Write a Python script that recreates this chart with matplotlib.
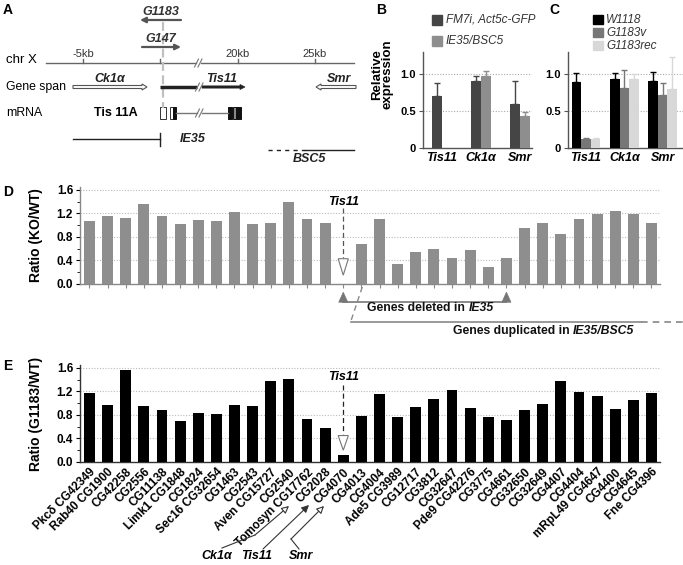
import matplotlib
matplotlib.use('Agg')
import matplotlib.pyplot as plt
import numpy as np
from matplotlib.patches import Rectangle, Polygon, FancyArrow
from matplotlib.ticker import MultipleLocator

plt.rcParams['font.family'] = ['Liberation Sans', 'DejaVu Sans']
plt.rcParams['axes.linewidth'] = 1.0

W, H = 683, 565
fig = plt.figure(figsize=(W / 100, H / 100), dpi=100)


def px_axes(l, t, r, b):
    return fig.add_axes([l / W, 1 - b / H, (r - l) / W, (b - t) / H])


# ---------------- data ----------------
genes_bc = ['Tis11', 'Ck1α', 'Smr']
b_labels = ['FM7i, Act5c-GFP', 'IE35/BSC5']
b_fm7 = [0.70, 0.91, 0.59]
b_fm7_err = [0.18, 0.06, 0.32]
b_ie35 = [0.0, 0.98, 0.44]
b_ie35_err = [0.0, 0.06, 0.05]

c_labels = ['W1118', 'G1183v', 'G1183rec']
c_w1118 = [0.89, 0.94, 0.91]
c_w1118_err = [0.13, 0.07, 0.12]
c_g1183v = [0.12, 0.81, 0.72]
c_g1183v_err = [0.02, 0.25, 0.16]
c_g1183rec = [0.12, 0.94, 0.80]
c_g1183rec_err = [0.02, 0.06, 0.43]

d_ratio = [1.07, 1.16, 1.13, 1.36, 1.15, 1.02, 1.09, 1.08, 1.23, 1.02, 1.03, 1.40, 1.11, 1.03,
           0.0, 0.68, 1.10, 0.335, 0.55, 0.59, 0.45, 0.58, 0.295, 0.44, 0.95, 1.04, 0.85,
           1.11, 1.19, 1.25, 1.19, 1.04]

e_genes = ['Pkcδ CG42349', 'Rab40 CG1900', 'CG42258', 'CG2556', 'CG11138', 'Limk1 CG1848',
           'CG1824', 'Sec16 CG32654', 'CG1463', 'CG2543', 'Aven CG15727', 'CG2540',
           'Tomosyn CG17762', 'CG2028', 'CG4070', 'CG4013', 'CG4004', 'Ade5 CG3989',
           'CG12717', 'CG3812', 'CG32647', 'Pde9 CG42276', 'CG3775', 'CG4661', 'CG32650',
           'CG32649', 'CG4407', 'CG4404', 'mRpL49 CG4647', 'CG4400', 'CG4645', 'Fne CG4396']
e_ratio = [1.17, 0.97, 1.57, 0.96, 0.89, 0.69, 0.83, 0.81, 0.97, 0.96, 1.38, 1.42, 0.73,
           0.57, 0.12, 0.79, 1.15, 0.76, 0.94, 1.07, 1.23, 0.92, 0.76, 0.72, 0.89, 0.99,
           1.38, 1.19, 1.12, 0.90, 1.06, 1.17]

tis11_index = 14
deleted_span = (14, 23)

# panel A schematic (schematic pixel units)
a_ticks_x = [83, 160, 238, 315]
a_tick_labels = ['-5kb', '', '20kb', '25kb']

# ---------------- overlay axes (pixel coords) ----------------
ov = fig.add_axes([0, 0, 1, 1], zorder=10)
ov.set_xlim(0, W)
ov.set_ylim(H, 0)
ov.axis('off')

BI = dict(fontweight='bold', fontstyle='italic')


def rich_text(ax, xc, yc, pieces, fontsize=8.5, color='#111'):
    r = fig.canvas.get_renderer()
    objs = [ax.text(xc, yc, s, fontsize=fontsize, fontweight='bold', fontstyle=st,
                    ha='left', va='center', clip_on=False, color=color)
            for s, st in pieces]
    widths = [o.get_window_extent(r).width for o in objs]
    X, Y = ax.transData.transform((xc, yc))
    inv = ax.transData.inverted()
    cur = X - sum(widths) / 2
    for o, w in zip(objs, widths):
        o.set_position(inv.transform((cur, Y)))
        cur += w


def brk(x, y, color='#777'):
    for dx in (-2.0, 1.5):
        ov.plot([x + dx - 2, x + dx + 2], [y + 4, y - 4], color=color, lw=0.8)


# ---------------- Panel A ----------------
ov.text(3, 10, 'A', fontsize=10, fontweight='bold', va='center')
ov.text(6, 60, 'chr X', fontsize=9.5, va='center')
ov.text(6, 87, 'Gene span', fontsize=8.8, va='center')
ov.text(6, 113, 'mRNA', fontsize=8.8, va='center')

# chromosome line with break
ov.plot([46, 196], [63, 63], color='#666', lw=1)
ov.plot([201, 354], [63, 63], color='#666', lw=1)
brk(198.5, 63)
for x, lab in zip(a_ticks_x, a_tick_labels):
    ov.plot([x, x], [59, 63], color='#666', lw=1)
    if lab:
        ov.text(x, 54, lab, fontsize=8, ha='center', va='center', color='#333')

# P-element insertions
ov.text(161, 12, 'G1183', fontsize=9, ha='center', va='center', color='#333', **BI)
ov.annotate('', xy=(140, 20), xytext=(181, 20),
            arrowprops=dict(arrowstyle='-|>', color='#555', lw=1.6, mutation_scale=8,
                            shrinkA=0, shrinkB=0))
ov.text(161, 39, 'G147', fontsize=9, ha='center', va='center', color='#333', **BI)
ov.annotate('', xy=(181, 47), xytext=(142, 47),
            arrowprops=dict(arrowstyle='-|>', color='#555', lw=1.6, mutation_scale=8,
                            shrinkA=0, shrinkB=0))
ov.plot([163, 163], [22, 108], color='#c0c0c0', lw=1.6, ls=(0, (4, 2)))

# gene spans
ov.add_patch(FancyArrow(73, 87, 74, 0, width=3, head_width=6, head_length=5,
                        length_includes_head=True, fc='white', ec='#555', lw=0.8))
ov.text(110, 79, 'Ck1α', fontsize=9, ha='center', va='center', color='#222', **BI)
ov.plot([160, 197], [87, 87], color='#222', lw=2.5, solid_capstyle='butt')
ov.add_patch(FancyArrow(202, 87, 43, 0, width=2.2, head_width=5, head_length=5,
                        length_includes_head=True, fc='#222', ec='#222', lw=0.5))
brk(199.5, 87)
ov.text(222, 79, 'Tis11', fontsize=9, ha='center', va='center', color='#222', **BI)
ov.add_patch(FancyArrow(356, 87, -40, 0, width=3, head_width=6, head_length=5,
                        length_includes_head=True, fc='white', ec='#555', lw=0.8))
ov.text(339, 79, 'Smr', fontsize=9, ha='center', va='center', color='#222', **BI)

# mRNA
ov.text(116, 113, 'Tis 11A', fontsize=9, fontweight='bold', ha='center', va='center')
ov.plot([176, 197], [113, 113], color='#777', lw=1)
ov.plot([202, 228], [113, 113], color='#777', lw=1)
brk(199.5, 113)
ov.add_patch(Rectangle((160, 107), 6, 12, fc='white', ec='#333', lw=0.7))
ov.add_patch(Rectangle((169.5, 107), 3, 12, fc='white', ec='#333', lw=0.7))
ov.add_patch(Rectangle((172.5, 107), 3.5, 12, fc='#111', ec='#111', lw=0.7))
ov.add_patch(Rectangle((228, 107), 4, 12, fc='#111', ec='#111', lw=0.7))
ov.add_patch(Rectangle((232.5, 107), 3.5, 12, fc='#888', ec='#111', lw=0.7))
ov.add_patch(Rectangle((236, 107), 4.5, 12, fc='#111', ec='#111', lw=0.7))

# deficiencies
ov.plot([73, 160], [139, 139], color='#222', lw=1)
ov.plot([160, 160], [133, 146], color='#222', lw=1)
ov.text(193, 139, 'IE35', fontsize=9, ha='center', va='center', color='#222', **BI)
ov.plot([268, 305], [150, 150], color='#222', lw=1, ls=(0, (3, 3)))
ov.plot([305, 354], [150, 150], color='#222', lw=1)
ov.text(309, 159, 'BSC5', fontsize=9, ha='center', va='center', color='#222', **BI)

# ---------------- Panel B ----------------
ov.text(376, 10, 'B', fontsize=10, fontweight='bold', va='center')
axB = px_axes(423, 52, 532, 148)
xb = np.arange(3)
bw = 0.256
dark, light = '#454545', '#8e8e8e'
axB.bar(xb - bw / 2, b_fm7, bw, color=dark, zorder=3)
axB.errorbar(xb - bw / 2, b_fm7, yerr=[np.zeros(3), b_fm7_err], fmt='none', ecolor=dark,
             elinewidth=1, capsize=2.5, capthick=1, zorder=3)
ie_mask = np.array(b_ie35) > 0
axB.bar((xb + bw / 2)[ie_mask], np.array(b_ie35)[ie_mask], bw, color=light, zorder=3)
axB.errorbar((xb + bw / 2)[ie_mask], np.array(b_ie35)[ie_mask],
             yerr=[np.zeros(ie_mask.sum()), np.array(b_ie35_err)[ie_mask]], fmt='none',
             ecolor=light, elinewidth=1, capsize=2.5, capthick=1, zorder=3)
axB.set_xlim(-0.487, 2.31)
axB.set_ylim(0, 1.3)
axB.set_ylabel('Relative\nexpression', fontsize=9.5, fontweight='bold', linespacing=0.85)
axB.yaxis.set_label_coords(-0.27, 0.77)

ov.add_patch(Rectangle((432, 15), 10, 10, color=dark))
ov.text(446, 20, b_labels[0], fontsize=8.5, fontstyle='italic', va='center', color='#333')
ov.add_patch(Rectangle((432, 36), 10, 10, color=light))
ov.text(446, 41, b_labels[1], fontsize=8.5, fontstyle='italic', va='center', color='#333')

# ---------------- Panel C ----------------
ov.text(549, 10, 'C', fontsize=10, fontweight='bold', va='center')
axC = px_axes(568, 52, 683, 148)
cw = 0.25
c_cols = ['#000000', '#777777', '#d8d8d8']
for k, (vals, errs) in enumerate([(c_w1118, c_w1118_err), (c_g1183v, c_g1183v_err),
                                  (c_g1183rec, c_g1183rec_err)]):
    xs = xb + (k - 1) * cw
    axC.bar(xs, vals, cw, color=c_cols[k], zorder=3)
    axC.errorbar(xs, vals, yerr=[np.zeros(3), errs], fmt='none', ecolor=c_cols[k],
                 elinewidth=1, capsize=2.5, capthick=1, zorder=3)
    ov.add_patch(Rectangle((593, 15 + k * 13), 10, 9, color=c_cols[k]))
    ov.text(606, 20 + k * 13, c_labels[k], fontsize=8.5, fontstyle='italic', va='center',
            color='#333')
axC.set_xlim(-0.47, 2.53)
axC.set_ylim(0, 1.3)

for ax in (axB, axC):
    ax.set_xticks(xb)
    ax.set_xticklabels(genes_bc, fontsize=9, **BI)
    ax.tick_params(axis='x', length=0, pad=3)
    ax.set_yticks([0, 0.5, 1.0])
    ax.set_yticklabels(['0', '0.5', '1.0'], fontsize=8, fontweight='bold')
    ax.tick_params(axis='y', length=3, width=0.8, pad=2, color='#555')
    for s in ('top', 'right'):
        ax.spines[s].set_visible(False)
    for s in ('left', 'bottom'):
        ax.spines[s].set_color('#555')
    for yv in (0.5, 1.0):
        ax.axhline(yv, color='#aaaaaa', lw=0.8, ls=(0, (1, 1.5)), zorder=1)

# ---------------- Panel D ----------------
ov.text(3, 192, 'D', fontsize=10, fontweight='bold', va='center')
axD = px_axes(80, 187, 660, 284)
xd = np.arange(len(d_ratio))
axD.bar(xd, d_ratio, 0.6, color='#8e8e8e', zorder=3)
axD.set_xlim(-0.52, 31.47)
axD.set_ylim(0, 1.65)
axD.set_xticks(xd)
axD.set_xticklabels([])
axD.tick_params(axis='x', length=3, width=0.8, color='#888')
axD.set_ylabel('Ratio (KO/WT)', fontsize=10, fontweight='bold')
axD.yaxis.set_label_coords(-37 / 580, 0.5)
for s in ('left', 'bottom'):
    axD.spines[s].set_color('#888')

# Tis11 marker in D
axD.text(tis11_index, 1.40, 'Tis11', fontsize=9, ha='center', va='center', **BI)
axD.plot([tis11_index, tis11_index], [1.29, 0.44], color='#555', lw=0.9, ls=(0, (4, 2.5)))
axD.add_patch(Polygon([[tis11_index - 0.28, 0.43], [tis11_index + 0.28, 0.43],
                       [tis11_index, 0.15]], closed=True, fc='white', ec='#777', lw=0.8,
                      zorder=4))

# bracket: deleted in IE35
d0, d1 = deleted_span
axD.plot([d0, d1], [-0.31, -0.31], color='#777', lw=1.2, clip_on=False)
for xv in (d0, d1):
    axD.add_patch(Polygon([[xv - 0.25, -0.31], [xv + 0.25, -0.31], [xv, -0.14]],
                          closed=True, fc='#777', ec='#777', lw=0.5, clip_on=False))
rich_text(axD, 18.8, -0.41, [('Genes deleted in ', 'normal'), ('IE35', 'italic')], fontsize=8.8)

# bracket: duplicated in IE35/BSC5
axD.plot([15.05, 14.4], [-0.05, -0.65], color='#888', lw=1, ls=(0, (4, 3)), clip_on=False)
axD.plot([14.4, 30.4], [-0.65, -0.65], color='#888', lw=1.2, clip_on=False)
axD.plot([30.4, 33.0], [-0.65, -0.65], color='#888', lw=1.2, ls=(0, (4, 3)), clip_on=False)
rich_text(axD, 25.07, -0.80, [('Genes duplicated in ', 'normal'), ('IE35/BSC5', 'italic')],
          fontsize=8.8)

# ---------------- Panel E ----------------
ov.text(3, 366, 'E', fontsize=10, fontweight='bold', va='center')
axE = px_axes(80, 365, 660, 462)
xe = np.arange(len(e_ratio))
axE.bar(xe, e_ratio, 0.6, color='#000000', zorder=3)
axE.set_xlim(-0.52, 31.47)
axE.set_ylim(0, 1.65)
axE.set_xticks(xe)
axE.set_xticklabels(e_genes, rotation=45, ha='right', rotation_mode='anchor',
                    fontsize=8.5, fontweight='bold')
axE.tick_params(axis='x', length=0, pad=3)
axE.set_ylabel('Ratio (G1183/WT)', fontsize=10, fontweight='bold')
axE.yaxis.set_label_coords(-37 / 580, 0.5)
for s in ('left', 'bottom'):
    axE.spines[s].set_color('#333')

axE.text(tis11_index, 1.44, 'Tis11', fontsize=9, ha='center', va='center', **BI)
axE.plot([tis11_index, tis11_index], [1.31, 0.47], color='#222', lw=0.9, ls=(0, (4, 2.5)))
axE.add_patch(Polygon([[tis11_index - 0.28, 0.45], [tis11_index + 0.28, 0.45],
                       [tis11_index, 0.20]], closed=True, fc='white', ec='#777', lw=0.8,
                      zorder=4))

for ax in (axD, axE):
    ax.yaxis.set_major_locator(MultipleLocator(0.4))
    ax.yaxis.set_minor_locator(MultipleLocator(0.2))
    ax.set_yticklabels([f'{v:.1f}' for v in ax.get_yticks()], fontsize=8.5, fontweight='bold')
    ax.tick_params(axis='y', which='major', length=3, width=0.8, pad=2)
    ax.tick_params(axis='y', which='minor', length=2, width=0.6)
    for s in ('top', 'right'):
        ax.spines[s].set_visible(False)
    for yv in (0.4, 0.8, 1.2, 1.6):
        ax.axhline(yv, color='#bbbbbb', lw=0.8, ls=(0, (1, 1.5)), zorder=1)

# gene-name pointers under E
ov.text(217, 556, 'Ck1α', fontsize=9, ha='center', va='center', **BI)
ov.plot([222, 255], [548, 535], color='#333', lw=0.8)
ov.annotate('', xy=(289, 506), xytext=(255, 535),
            arrowprops=dict(arrowstyle='-|>', fc='white', ec='#333', lw=0.8,
                            mutation_scale=11, shrinkA=0, shrinkB=0))
ov.text(257, 556, 'Tis11', fontsize=9, ha='center', va='center', **BI)
ov.annotate('', xy=(309, 505), xytext=(263, 549),
            arrowprops=dict(arrowstyle='-|>', fc='#333', ec='#333', lw=0.8,
                            mutation_scale=11, shrinkA=0, shrinkB=0))
ov.text(301, 556, 'Smr', fontsize=9, ha='center', va='center', **BI)
ov.plot([299, 291], [549, 539], color='#333', lw=0.8)
ov.annotate('', xy=(324, 506), xytext=(291, 539),
            arrowprops=dict(arrowstyle='-|>', fc='white', ec='#333', lw=0.8,
                            mutation_scale=11, shrinkA=0, shrinkB=0))

fig.savefig('out.png', dpi=100)
